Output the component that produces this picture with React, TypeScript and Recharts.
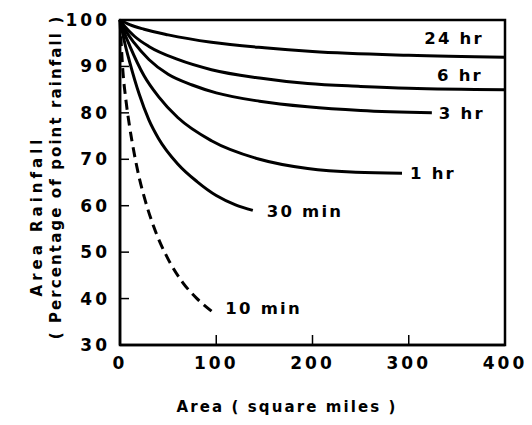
import React from "react";
import { LineChart, Line, XAxis, YAxis, ReferenceArea, Label } from "recharts";

// Depth-area curves: area (sq mi) vs. % of point rainfall
const area10 = [0, 3, 6, 10, 15, 20, 25, 35, 50, 65, 80, 97];
const pct10 = [100, 89, 83, 77, 71, 66, 62, 55.5, 48.5, 43.5, 40, 37];

const area30 = [0, 5, 10, 20, 30, 40, 60, 80, 100, 120, 138];
const pct30 = [100, 95, 91, 84, 78.5, 74.5, 69, 65.2, 62.2, 60.2, 59];

const area1h = [0, 5, 10, 25, 40, 60, 95, 145, 195, 245, 293];
const pct1h = [100, 97, 94.5, 88, 83.5, 79, 74, 70, 68, 67.2, 67];

const area3h = [0, 5, 15, 30, 50, 75, 100, 145, 195, 250, 324];
const pct3h = [100, 98, 95, 91.5, 88.3, 86, 84.3, 82.5, 81.3, 80.5, 80];

const area6h = [0, 5, 15, 30, 60, 95, 145, 195, 250, 300, 400];
const pct6h = [100, 98.6, 96.5, 94.3, 91.5, 89.3, 87.5, 86.3, 85.7, 85.3, 85];

const area24h = [0, 10, 25, 50, 95, 150, 200, 300, 400];
const pct24h = [100, 99, 98, 96.8, 95.2, 94, 93.2, 92.4, 92];

const xTicks = [0, 100, 200, 300, 400];
const yTicks = [30, 40, 50, 60, 70, 80, 90, 100];

const FONT = "'DejaVu Sans', sans-serif";

const toRows = (xs: number[], ys: number[]) => xs.map((a, i) => ({ area: a, pct: ys[i] }));

const series = [
  { name: "10 min", rows: toRows(area10, pct10), dashed: true, dx: 12, dy: -4, anchor: "start" },
  { name: "30 min", rows: toRows(area30, pct30), dashed: false, dx: 14, dy: 1, anchor: "start" },
  { name: "1 hr", rows: toRows(area1h, pct1h), dashed: false, dx: 8, dy: 0, anchor: "start" },
  { name: "3 hr", rows: toRows(area3h, pct3h), dashed: false, dx: 7, dy: 1, anchor: "start" },
  { name: "6 hr", rows: toRows(area6h, pct6h), dashed: false, dx: -45, dy: -14, anchor: "middle" },
  { name: "24 hr", rows: toRows(area24h, pct24h), dashed: false, dx: -51, dy: -19, anchor: "middle" },
];

function endLabel(text: string, last: number, dx: number, dy: number, anchor: string) {
  return (props: any) => {
    if (props.index !== last) return <g />;
    return (
      <text
        x={props.x + dx}
        y={props.y + dy}
        textAnchor={anchor}
        dominantBaseline="central"
        fontFamily={FONT}
        fontWeight="bold"
        fontSize={16.5}
        letterSpacing={2.2}
        fill="#000"
      >
        {text}
      </text>
    );
  };
}

const tickStyle = { fontFamily: FONT, fontWeight: "bold", fontSize: 17, letterSpacing: 3, fill: "#000" };

export default function App() {
  return (
    <div style={{ position: "absolute", left: 0, top: 0, background: "#fff" }}>
      <LineChart width={532} height={425} margin={{ top: 20, right: 27, bottom: 0, left: 0 }}>
        <XAxis
          dataKey="area"
          type="number"
          domain={[0, 400]}
          ticks={xTicks}
          height={80}
          tickSize={-10}
          tickMargin={22}
          axisLine={{ stroke: "#000", strokeWidth: 2.5 }}
          tickLine={{ stroke: "#000", strokeWidth: 1.5 }}
          tick={tickStyle}
        >
          <Label
            content={() => (
              <text x={287} y={412} textAnchor="middle" fontFamily={FONT} fontWeight="bold" fontSize={15} letterSpacing={2.1} fill="#000">
                Area ( square miles )
              </text>
            )}
          />
        </XAxis>
        <YAxis
          type="number"
          domain={[30, 100]}
          ticks={yTicks}
          width={120}
          tickSize={-9}
          tickMargin={19}
          axisLine={{ stroke: "#000", strokeWidth: 2.5 }}
          tickLine={{ stroke: "#000", strokeWidth: 1.5 }}
          tick={tickStyle}
        >
          <Label
            content={() => (
              <g>
                <text
                  transform="translate(37,216) rotate(-90)"
                  textAnchor="middle"
                  dominantBaseline="central"
                  fontFamily={FONT}
                  fontWeight="bold"
                  fontSize={15}
                  letterSpacing={4}
                  fill="#000"
                >
                  Area Rainfall
                </text>
                <text
                  transform="translate(56,177) rotate(-90)"
                  textAnchor="middle"
                  dominantBaseline="central"
                  fontFamily={FONT}
                  fontWeight="bold"
                  fontSize={15}
                  letterSpacing={2.1}
                  fill="#000"
                >
                  ( Percentage of point rainfall )
                </text>
              </g>
            )}
          />
        </YAxis>
        <ReferenceArea x1={0} x2={400} y1={30} y2={100} fill="none" stroke="#000" strokeWidth={2.5} ifOverflow="visible" />
        {series.map((s) => (
          <Line
            key={s.name}
            data={s.rows}
            dataKey="pct"
            type="monotone"
            stroke="#000"
            strokeWidth={3}
            strokeDasharray={s.dashed ? "10 6" : undefined}
            dot={false}
            isAnimationActive={false}
            label={endLabel(s.name, s.rows.length - 1, s.dx, s.dy, s.anchor)}
          />
        ))}
      </LineChart>
    </div>
  );
}
